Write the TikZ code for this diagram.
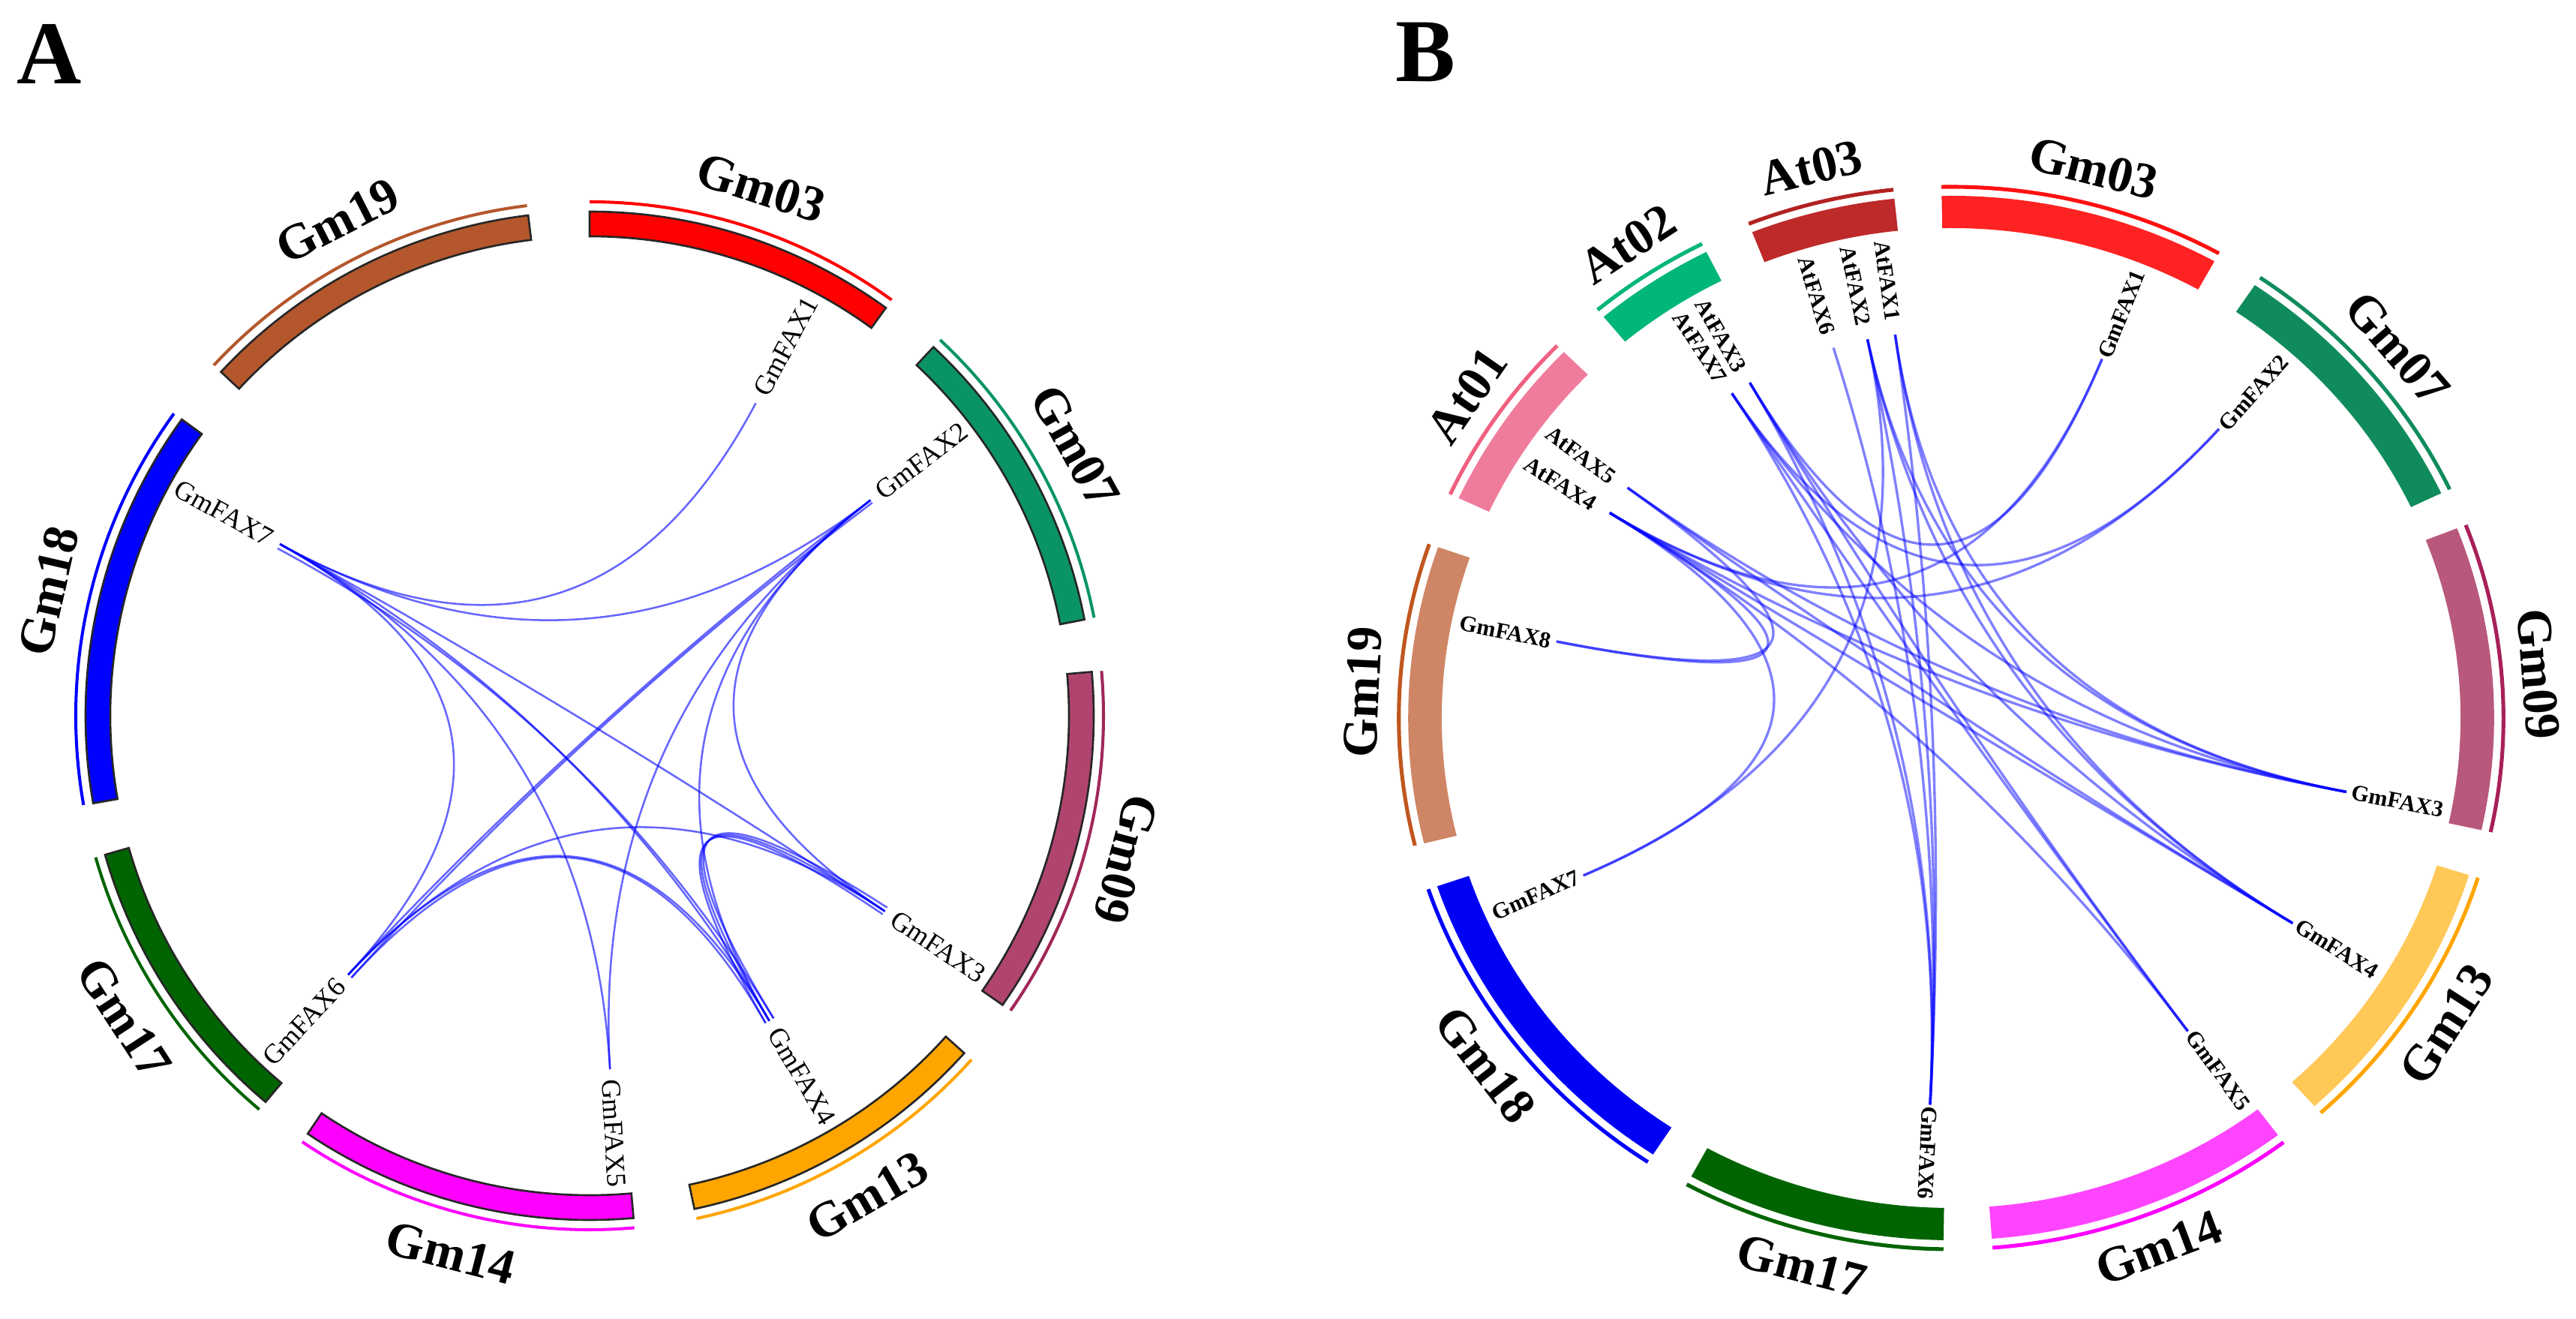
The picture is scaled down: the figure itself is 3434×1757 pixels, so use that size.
\documentclass[tikz,border=0pt]{standalone}
\usepackage{fontspec}
\setmainfont{Liberation Serif}
\usetikzlibrary{calc}
% panel A colours (bar / track)
\definecolor{AGm03}{HTML}{FF0000}\definecolor{ALGm03}{HTML}{FF0000}
\definecolor{AGm07}{HTML}{0A9466}\definecolor{ALGm07}{HTML}{0A9466}
\definecolor{AGm09}{HTML}{B0446F}\definecolor{ALGm09}{HTML}{A02858}
\definecolor{AGm13}{HTML}{FFA500}\definecolor{ALGm13}{HTML}{FFA500}
\definecolor{AGm14}{HTML}{FF00FF}\definecolor{ALGm14}{HTML}{FF00FF}
\definecolor{AGm17}{HTML}{006400}\definecolor{ALGm17}{HTML}{006400}
\definecolor{AGm18}{HTML}{0000FF}\definecolor{ALGm18}{HTML}{0000FF}
\definecolor{AGm19}{HTML}{B4572C}\definecolor{ALGm19}{HTML}{B4572C}
% panel B colours (bar / track)
\definecolor{BAt03}{HTML}{BE2A2A}\definecolor{BLAt03}{HTML}{B22222}
\definecolor{BGm03}{HTML}{FF2222}\definecolor{BLGm03}{HTML}{FF1010}
\definecolor{BGm07}{HTML}{108C5C}\definecolor{BLGm07}{HTML}{108C5C}
\definecolor{BGm09}{HTML}{B8587C}\definecolor{BLGm09}{HTML}{A8205A}
\definecolor{BGm13}{HTML}{FFC857}\definecolor{BLGm13}{HTML}{FFA500}
\definecolor{BGm14}{HTML}{FF44FF}\definecolor{BLGm14}{HTML}{FF00FF}
\definecolor{BGm17}{HTML}{006400}\definecolor{BLGm17}{HTML}{006400}
\definecolor{BGm18}{HTML}{0000F5}\definecolor{BLGm18}{HTML}{0000FF}
\definecolor{BGm19}{HTML}{CF8666}\definecolor{BLGm19}{HTML}{C0561E}
\definecolor{BAt01}{HTML}{F07C9C}\definecolor{BLAt01}{HTML}{F06080}
\definecolor{BAt02}{HTML}{00B678}\definecolor{BLAt02}{HTML}{00B678}
\newcommand{\annsector}[5]{\path[#1] (#2:#4) arc[start angle=#2, end angle=#3, radius=#4] -- (#3:#5) arc[start angle=#3, end angle=#2, radius=#5] -- cycle;}
\newcommand{\trackarc}[4]{\draw[#1] (#2:#4) arc[start angle=#2, end angle=#3, radius=#4];}
\begin{document}
\begin{tikzpicture}[x=0.01cm,y=0.01cm,
  chrlab/.style={font=\fontsize{19}{19}\selectfont\bfseries, inner sep=0},
  genA/.style={font=\fontsize{10.4}{11}\selectfont, inner sep=0},
  genB/.style={font=\fontsize{8.6}{9}\selectfont\bfseries, inner sep=0},
  linkA/.style={draw=blue, draw opacity=0.6, line width=0.72pt},
  linkB/.style={draw=blue, draw opacity=0.5, line width=0.95pt},
  barA/.style={draw=black!85, line width=0.75pt},
  trkA/.style={line width=1.15pt},
  trkB/.style={line width=1.45pt},
  panlab/.style={font=\fontsize{34}{34}\selectfont\bfseries, inner sep=0}]
\useasboundingbox (0,0) rectangle (3434,1757);
\fill[white] (0,0) rectangle (3434,1757);
\node[panlab] (labA) at (66,1685) {A};
\node[panlab] (labB) at (1900,1687) {B};

% ---------------- Panel A ----------------
\begin{scope}[shift={(786,803)}]
\foreach \g/\a in {1/62,2/37.5,3/326.5,4/300.5,5/273.3,6/227,7/151,2b/37,3b/327.2,3c/325.9,4b/301.3,4c/299.8,6b/227.7,7b/151.8}{
  \coordinate (eA\g) at (\a:472);
  \coordinate (cA\g) at (\a:157.3);
}
\foreach \p/\q in {7/1,7/2,7/6,7/5,7/4,7b/4b,7/3,2/6,2b/6b,2/5,2/4,2/3,6/3,6/4,6b/4c,3/4,3b/4b,3c/4c}
  \draw[linkA] (eA\p) .. controls (cA\p) and (cA\q) .. (eA\q);
\foreach \nm/\s/\e/\lr in {Gm03/90/54/-18, Gm07/47/11/-61, Gm09/5/-35/255, Gm13/-42/-78/30, Gm14/-85/-124/-14.5, Gm17/-130/-164/-57, Gm18/190/144/77, Gm19/137/97/27}{
  \annsector{fill=A\nm,barA}{\s}{\e}{639}{672}
  \trackarc{draw=AL\nm,trkA}{\s}{\e}{685}
  \node[chrlab, rotate=\lr] (A-\nm) at ({(\s+\e)/2}:740) {\nm};
}
\foreach \g/\a in {1/62,2/37.5,3/326.5,4/300.5,5/273.3}
  \node[genA, anchor=east, rotate=\a] (gA\g) at (\a:630) {GmFAX\g};
\foreach \g/\a in {6/227,7/151}
  \node[genA, anchor=west, rotate={\a-180}] (gA\g) at (\a:630) {GmFAX\g};
\end{scope}

% ---------------- Panel B ----------------
\begin{scope}[shift={(2601,800)}, xscale=1.04]
\foreach \g/\a in {GmFAX1/68,GmFAX2/48.3,GmFAX3/349,GmFAX4/328,GmFAX5/306,GmFAX6/267,AtFAX1/98,AtFAX2/102,AtFAX6/107,AtFAX3/120,AtFAX7/123,AtFAX5/143.5,AtFAX4/148,GmFAX8/168.6,GmFAX7/204}{
  \coordinate (eB-\g) at (\a:516);
  \coordinate (cB-\g) at (\a:172);
}
\foreach \p/\q in {AtFAX1/GmFAX6,AtFAX2/GmFAX6,AtFAX6/GmFAX6,AtFAX3/GmFAX6,AtFAX7/GmFAX6,
  AtFAX1/GmFAX3,AtFAX2/GmFAX3,AtFAX7/GmFAX3,AtFAX4/GmFAX3,AtFAX5/GmFAX3,
  AtFAX1/GmFAX4,AtFAX2/GmFAX4,AtFAX3/GmFAX4,AtFAX4/GmFAX4,AtFAX5/GmFAX4,
  AtFAX3/GmFAX5,AtFAX7/GmFAX5,AtFAX4/GmFAX5,
  AtFAX4/GmFAX1,AtFAX3/GmFAX1,AtFAX4/GmFAX2,AtFAX7/GmFAX2,
  AtFAX4/GmFAX8,AtFAX5/GmFAX8,AtFAX4/GmFAX7,AtFAX2/GmFAX7}
  \draw[linkB] (eB-\p) .. controls (cB-\p) and (cB-\q) .. (eB-\q);
\foreach \nm/\s/\e/\lr in {At03/111.5/96/13.75, Gm03/91/61/-14, Gm07/56/25.5/-49.25, Gm09/21.3/-12.4/-85.55, Gm13/-17.5/-48/57.25, Gm14/-53/-85.7/20.65, Gm17/-90.8/-118.6/-14.7, Gm18/-123.3/-161.2/-52.25, Gm19/193.9/160.9/87.4, At01/155.1/135.5/55.3, At02/129.8/116.8/33.3}{
  \annsector{fill=B\nm}{\s}{\e}{653}{696}
  \trackarc{draw=BL\nm,trkB}{\s}{\e}{708}
  \node[chrlab, rotate=\lr] (B-\nm) at ({(\s+\e)/2}:755) {\nm};
}
\foreach \g/\a in {GmFAX1/68,GmFAX2/48.3,GmFAX3/349,GmFAX4/328,GmFAX5/306,GmFAX6/267}
  \node[genB, anchor=east, rotate=\a] (gB-\g) at (\a:643) {\g};
\foreach \g/\a in {AtFAX1/98,AtFAX2/102,AtFAX6/107,AtFAX3/120,AtFAX7/123,AtFAX5/143.5,AtFAX4/148,GmFAX8/168.6,GmFAX7/204}
  \node[genB, anchor=west, rotate={\a-180}] (gB-\g) at (\a:643) {\g};
\end{scope}
\end{tikzpicture}
\end{document}
